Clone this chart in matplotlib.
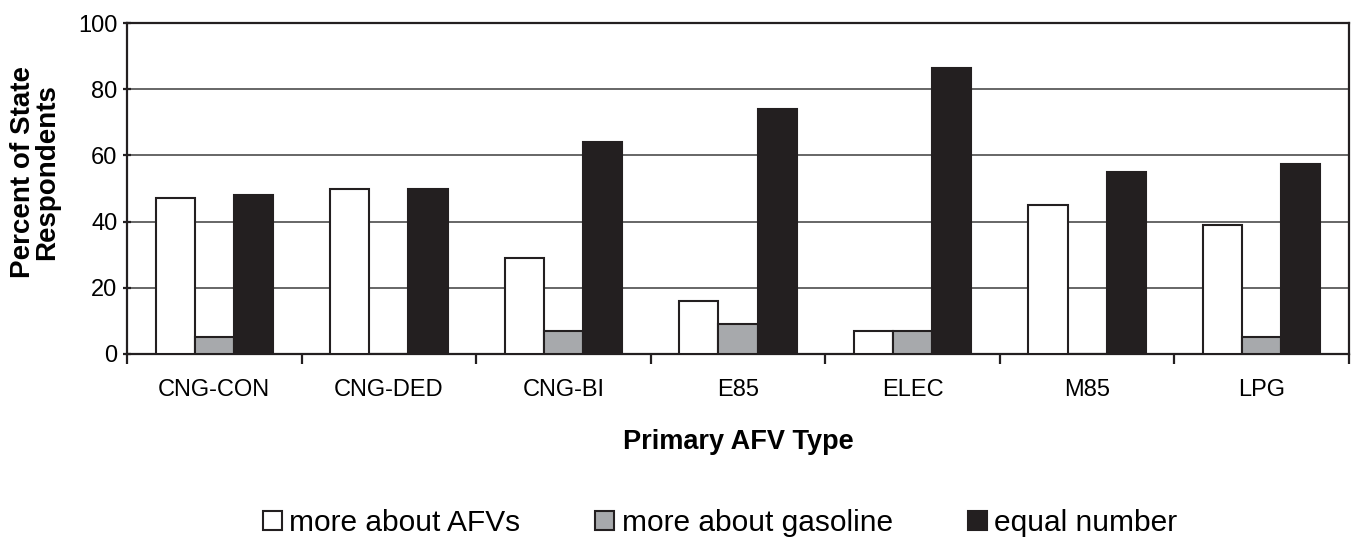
import matplotlib
matplotlib.use("Agg")
import matplotlib.pyplot as plt
import numpy as np
from matplotlib.patches import Patch

categories = ["CNG-CON", "CNG-DED", "CNG-BI", "E85", "ELEC", "M85", "LPG"]
more_afv = [47, 50, 29, 16, 7, 45, 39]
more_gas = [5, 0, 7, 9, 7, 0, 5]
equal_num = [48, 50, 64, 74, 86.5, 55, 57.5]
series_names = ["more about AFVs", "more about gasoline", "equal number"]

plt.rcParams['font.family'] = ['Liberation Sans', 'DejaVu Sans']

fig = plt.figure(figsize=(13.53, 5.41), dpi=100)
ax = fig.add_axes([127/1353, 1-354/541, (1349-127)/1353, (354-23)/541])

x = np.arange(len(categories))
w = 0.224
colors = ["white", "#a7a9ac", "#231f20"]
for i, (vals, c) in enumerate(zip([more_afv, more_gas, equal_num], colors)):
    ax.bar(x + (i-1)*w, vals, w, color=c, edgecolor="#231f20", linewidth=1.5, zorder=3)

ax.set_xlim(-0.5, len(categories)-0.5)
ax.set_ylim(0, 100)
ax.set_yticks([0, 20, 40, 60, 80, 100])
ax.yaxis.grid(True, color="#4d4d4d", linewidth=1.2, zorder=0)
ax.set_axisbelow(True)
for s in ax.spines.values():
    s.set_linewidth(1.6)
    s.set_color("#231f20")
ax.set_xticks(x)
ax.set_xticklabels(categories, fontsize=17)
ax.tick_params(axis='x', length=0, pad=18)
ax.set_xticks(np.arange(len(categories)+1)-0.5, minor=True)
ax.tick_params(axis='x', which='minor', length=7, width=1.6, color="#231f20")
ax.tick_params(axis='y', labelsize=17, length=6, width=1.6, direction='inout', color="#231f20", pad=4)
ax.set_xlabel("Primary AFV Type", fontsize=19.5, fontweight='bold', labelpad=20)
ax.set_ylabel("Percent of State\nRespondents", fontsize=20, fontweight='bold', linespacing=0.9)
ax.yaxis.set_label_coords(-0.055, 0.55)

handles = [Patch(facecolor=c, edgecolor="#231f20", linewidth=1.5) for c in colors]
fig.legend(handles, series_names, loc='center', bbox_to_anchor=(720/1353, 1-523/541), ncol=3,
           frameon=False, fontsize=21.5, handlelength=0.64, handleheight=0.64,
           handletextpad=0.25, columnspacing=2.5, borderpad=0, borderaxespad=0)

fig.savefig("out.png", dpi=100)
